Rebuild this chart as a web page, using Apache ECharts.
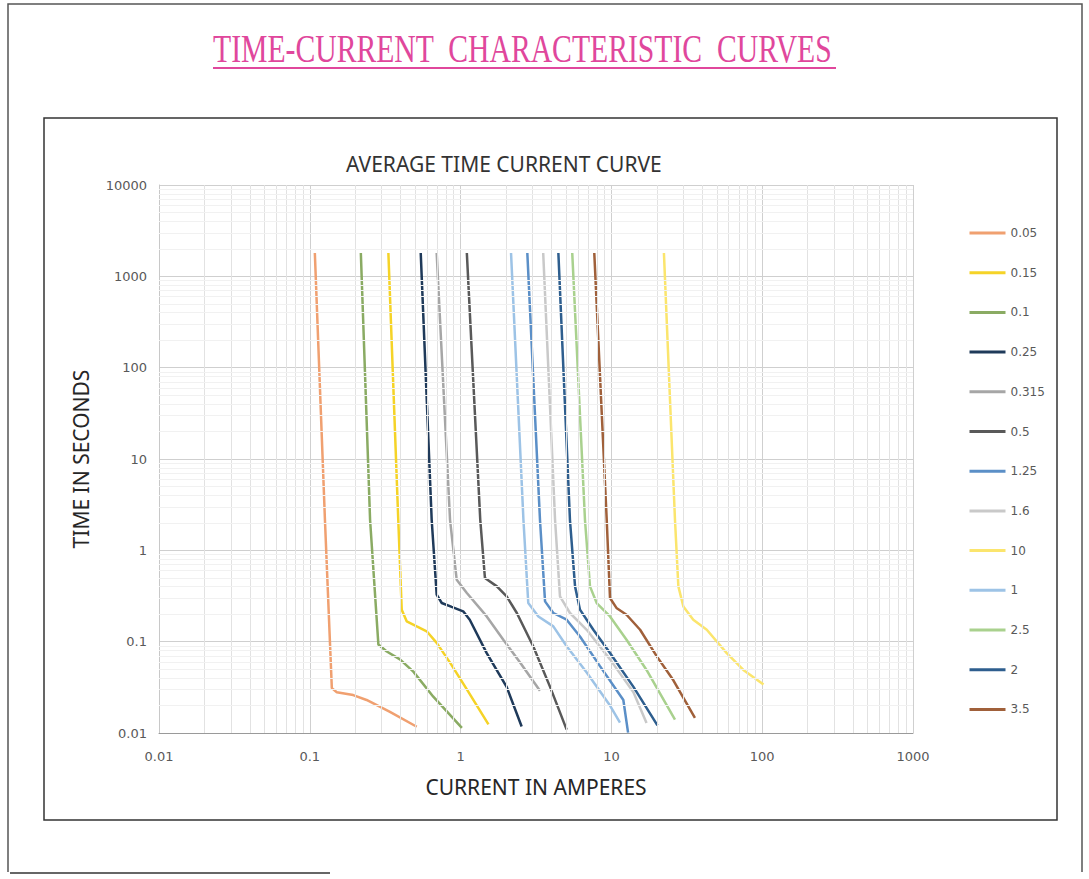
<!DOCTYPE html>
<html>
<head>
<meta charset="utf-8">
<title>Time-Current Characteristic Curves</title>
<script src="https://cdn.jsdelivr.net/npm/echarts@6/dist/echarts.min.js"></script>
<style>
  html, body { margin: 0; padding: 0; background: #fff; }
  #chart { width: 1089px; height: 879px; }
</style>
</head>
<body>
<div id="chart"></div>
<script>
// fuse ratings, in the order of the legend
const ratings = ['0.05', '0.15', '0.1', '0.25', '0.315', '0.5', '1.25', '1.6', '10', '1', '2.5', '2', '3.5']

// current in amperes / time in seconds from top to bottom
const amps005 = [0.108, 0.126, 0.140, 0.151, 0.194, 0.238, 0.340, 0.512]
const secs005 = [1800, 2.16, 0.031, 0.028, 0.026, 0.023, 0.017, 0.0117]
const amps015 = [0.332, 0.386, 0.407, 0.439, 0.512, 0.596, 0.694, 0.851, 1.10, 1.53]
const secs015 = [1800, 2.16, 0.224, 0.167, 0.147, 0.130, 0.097, 0.059, 0.030, 0.0124]
const amps01 = [0.218, 0.251, 0.285, 0.324, 0.396, 0.486, 0.659, 1.02]
const secs01 = [1800, 2.16, 0.093, 0.078, 0.064, 0.047, 0.025, 0.0114]
const amps025 = [0.544, 0.643, 0.694, 0.750, 0.873, 1.04, 1.15, 1.49, 2.02, 2.54]
const secs025 = [1800, 2.16, 0.327, 0.265, 0.240, 0.215, 0.174, 0.075, 0.032, 0.0118]
const amps0315 = [0.694, 0.851, 0.942, 1.10, 1.49, 1.92, 2.48, 3.36]
const secs0315 = [1800, 2.16, 0.477, 0.341, 0.189, 0.105, 0.059, 0.029]
const amps05 = [1.10, 1.35, 1.45, 1.74, 2.02, 2.36, 3.03, 3.92, 5.05]
const secs05 = [1800, 2.16, 0.498, 0.403, 0.313, 0.206, 0.089, 0.032, 0.0109]
const amps125 = [2.77, 3.36, 3.63, 4.12, 5.05, 6.19, 8.40, 12.0, 12.9]
const secs125 = [1800, 2.16, 0.276, 0.206, 0.174, 0.114, 0.054, 0.023, 0.0101]
const amps16 = [3.53, 4.23, 4.56, 5.31, 6.86, 9.79, 14.0, 17.1]
const secs16 = [1800, 2.16, 0.313, 0.206, 0.135, 0.064, 0.028, 0.0129]
const amps10 = [22.3, 26.4, 27.8, 30.0, 34.9, 42.9, 58.2, 75.0, 102]
const secs10 = [1800, 2.16, 0.403, 0.243, 0.174, 0.135, 0.075, 0.049, 0.034]
const amps1 = [2.16, 2.61, 2.81, 3.28, 4.12, 5.05, 6.86, 9.79, 11.4]
const secs1 = [1800, 2.16, 0.265, 0.189, 0.147, 0.089, 0.046, 0.020, 0.013]
const amps25 = [5.50, 6.68, 7.21, 7.99, 9.79, 12.6, 17.1, 26.4]
const secs25 = [1800, 2.16, 0.403, 0.265, 0.189, 0.105, 0.049, 0.014]
const amps2 = [4.45, 5.31, 5.74, 6.19, 7.59, 9.79, 14.0, 20.2]
const secs2 = [1800, 2.16, 0.403, 0.224, 0.135, 0.075, 0.032, 0.0121]
const amps35 = [7.70, 9.31, 9.79, 10.8, 12.6, 15.5, 20.0, 25.7, 35.8]
const secs35 = [1800, 2.16, 0.301, 0.234, 0.197, 0.135, 0.069, 0.038, 0.0146]

const amps = [amps005, amps015, amps01, amps025, amps0315, amps05, amps125, amps16, amps10, amps1, amps25, amps2, amps35]
const secs = [secs005, secs015, secs01, secs025, secs0315, secs05, secs125, secs16, secs10, secs1, secs25, secs2, secs35]

const colors = ['#f0a070', '#f5d327', '#8aab63', '#1f3a5a', '#a6a6a6', '#595959', '#5b8fc7',
  '#c9c9c9', '#fbe56d', '#9dc3e6', '#a9d18e', '#2e5e8e', '#a0603a']

// decade labels and the 2..9 lines between them
const xDecades = [0.01, 0.1, 1, 10, 100]
const yDecades = [0.01, 0.1, 1, 10, 100, 1000]
const minorSteps = [2, 3, 4, 5, 6, 7, 8, 9]

const minorLines = []
xDecades.forEach(d => minorSteps.forEach(m => minorLines.push({ xAxis: +(d * m).toPrecision(3) })))
yDecades.forEach(d => minorSteps.forEach(m => minorLines.push({ yAxis: +(d * m).toPrecision(3), lineStyle: { color: '#f1f1f1' } })))

const chart = echarts.init(document.getElementById('chart'), null, { renderer: 'svg' })

const fuseSeries = ratings.map((name, i) => ({
  name: name,
  type: 'line',
  data: amps[i].map((a, j) => [a, secs[i][j]]),
  symbol: 'none',
  smooth: false,
  z: 3,
  lineStyle: { width: 2.5, color: colors[i] },
  itemStyle: { color: colors[i] }
}))

chart.setOption({
  animation: false,
  title: {
    text: 'AVERAGE TIME CURRENT CURVE',
    left: 341,
    top: 148,
    textStyle: { fontFamily: 'Noto Sans', fontSize: 21, fontWeight: 'normal', color: '#333' }
  },
  legend: {
    data: ratings,
    orient: 'vertical',
    left: 963,
    top: 222,
    itemWidth: 36,
    itemHeight: 14,
    itemGap: 27.7,
    itemStyle: { opacity: 0 },
    lineStyle: { width: 3 },
    textStyle: { fontFamily: 'DejaVu Sans', fontSize: 12, color: '#595959' }
  },
  grid: { left: 159, right: 176, top: 185, bottom: 146 },
  xAxis: {
    type: 'log',
    logBase: 10,
    min: 0.01,
    max: 1000,
    name: 'CURRENT IN AMPERES',
    nameLocation: 'middle',
    nameGap: 43,
    nameTextStyle: { fontFamily: 'Noto Sans', fontSize: 21, color: '#262626' },
    axisLine: { lineStyle: { color: '#9a9a9a' } },
    axisTick: { show: false },
    axisLabel: {
      margin: 17, fontFamily: 'DejaVu Sans', fontSize: 13, color: '#595959',
      showMinLabel: true, showMaxLabel: true,
      formatter: v => String(+v.toPrecision(4))
    },
    splitLine: { show: true, lineStyle: { color: '#cfcfcf' } }
  },
  yAxis: {
    type: 'log',
    logBase: 10,
    min: 0.01,
    max: 10000,
    name: 'TIME IN SECONDS',
    nameLocation: 'middle',
    nameGap: 68,
    nameTextStyle: { fontFamily: 'Noto Sans', fontSize: 21, color: '#262626' },
    axisLine: { show: true, lineStyle: { color: '#c8c8c8' } },
    axisTick: { show: false },
    axisLabel: {
      margin: 12, fontFamily: 'DejaVu Sans', fontSize: 13, color: '#595959',
      showMinLabel: true, showMaxLabel: true,
      formatter: v => String(+v.toPrecision(4))
    },
    splitLine: { show: true, lineStyle: { color: '#cfcfcf' } }
  },
  graphic: [
    // page border
    { type: 'polyline', silent: true, shape: { points: [[8, 872], [8, 4], [1082, 4], [1082, 872]] },
      style: { stroke: '#555', lineWidth: 1.5, fill: null } },
    { type: 'line', silent: true, shape: { x1: 10, y1: 873, x2: 330, y2: 873 },
      style: { stroke: '#666', lineWidth: 2 } },
    // chart frame
    { type: 'rect', silent: true, shape: { x: 44, y: 118, width: 1013, height: 702 },
      style: { stroke: '#333', lineWidth: 1.5, fill: null } },
    // heading
    { type: 'text', silent: true, x: 213, y: 29, scaleX: 0.742,
      style: { text: 'TIME-CURRENT  CHARACTERISTIC  CURVES', font: '40px "Liberation Serif"',
        fill: '#e0479c', textVerticalAlign: 'top' } },
    { type: 'line', silent: true, shape: { x1: 213, y1: 68, x2: 836, y2: 68 },
      style: { stroke: '#e0479c', lineWidth: 2 } }
  ],
  series: [{
    name: 'minor grid',
    type: 'line',
    data: [],
    silent: true,
    z: 1,
    markLine: {
      silent: true,
      symbol: ['none', 'none'],
      label: { show: false },
      lineStyle: { type: 'solid', width: 1, color: '#e2e2e2' },
      emphasis: { disabled: true },
      data: minorLines
    }
  }].concat(fuseSeries)
})
</script>
</body>
</html>
